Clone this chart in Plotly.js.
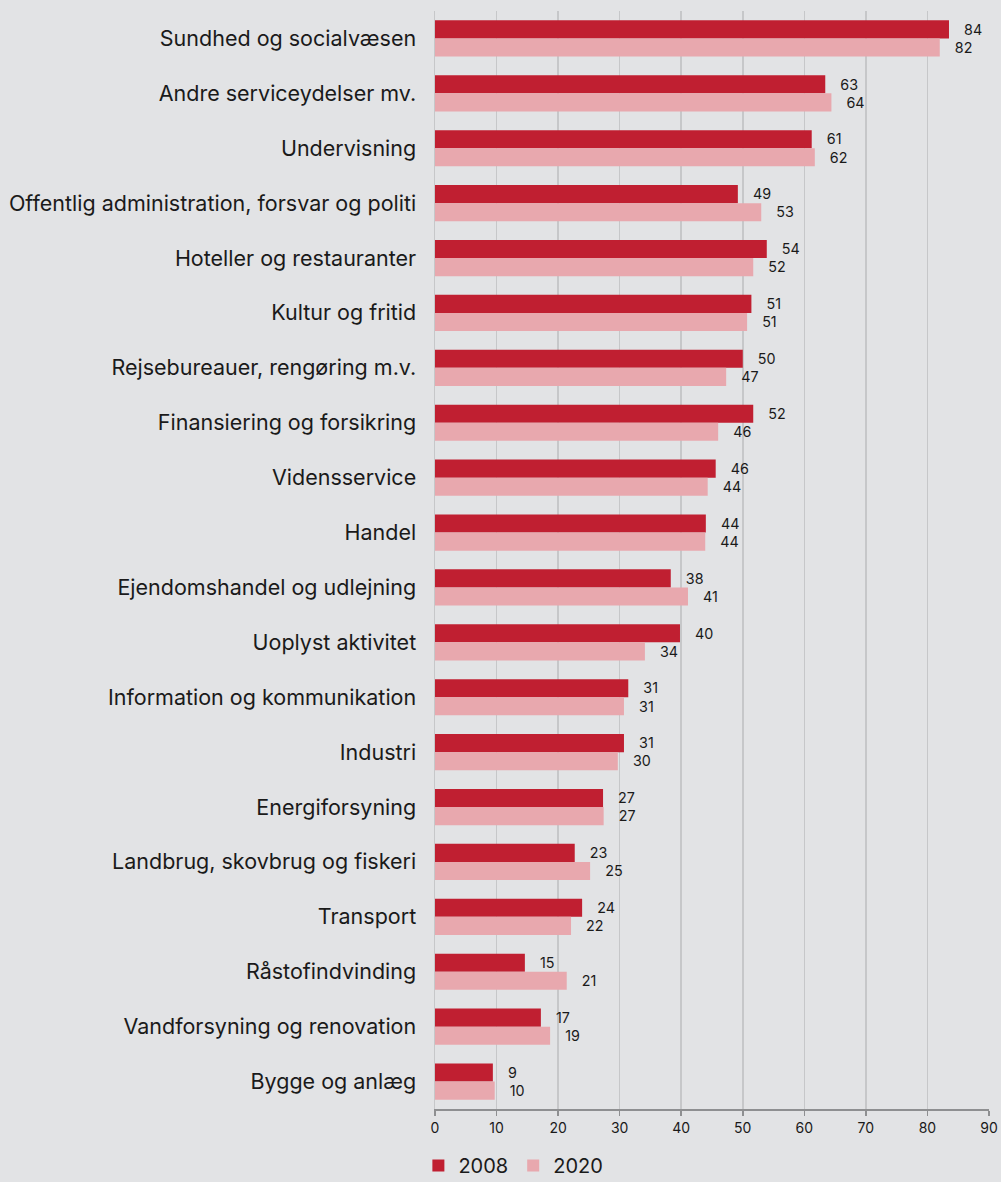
<!DOCTYPE html>
<html>
<head>
<meta charset="utf-8">
<script src="https://cdn.plot.ly/plotly-3.0.1.min.js"></script>
<style>
html,body{margin:0;padding:0;background:#e2e3e5;}
#chart{width:1001px;height:1182px;}
</style>
</head>
<body>
<div id="chart"></div>
<script>
const categories = [
  "Sundhed og socialvæsen",
  "Andre serviceydelser mv.",
  "Undervisning",
  "Offentlig administration, forsvar og politi",
  "Hoteller og restauranter",
  "Kultur og fritid",
  "Rejsebureauer, rengøring m.v.",
  "Finansiering og forsikring",
  "Vidensservice",
  "Handel",
  "Ejendomshandel og udlejning",
  "Uoplyst aktivitet",
  "Information og kommunikation",
  "Industri",
  "Energiforsyning",
  "Landbrug, skovbrug og fiskeri",
  "Transport",
  "Råstofindvinding",
  "Vandforsyning og renovation",
  "Bygge og anlæg"
];
const values2008 = [83.5, 63.4, 61.2, 49.2, 53.9, 51.4, 50.0, 51.7, 45.6, 44.0, 38.3, 39.8, 31.4, 30.7, 27.3, 22.7, 23.9, 14.6, 17.2, 9.4];
const values2020 = [82.0, 64.4, 61.7, 53.0, 51.7, 50.7, 47.3, 46.0, 44.3, 43.9, 41.1, 34.1, 30.7, 29.7, 27.4, 25.2, 22.1, 21.4, 18.7, 9.7];
const seriesNames = ["2008", "2020"];
const xTicks = [0,10,20,30,40,50,60,70,80,90];

const FONT = "Inter, 'Noto Sans', Arial, sans-serif";
const pad = "\u00a0\u00a0\u00a0";

function barTrace(name, vals, color){
  return {
    type: "bar",
    orientation: "h",
    name: name,
    y: categories,
    x: vals,
    marker: {color: color, line: {width: 0}},
    texttemplate: pad + "%{x:.0f}",
    textposition: "outside",
    cliponaxis: false,
    textfont: {family: FONT, size: 15, color: "#1a1a1a"},
    hoverinfo: "x+y+name"
  };
}

const data = [
  barTrace(seriesNames[0], values2008, "#c01f31"),
  barTrace(seriesNames[1], values2020, "#e8a8ae")
];

const layout = {
  width: 1001,
  height: 1182,
  paper_bgcolor: "#e2e3e5",
  plot_bgcolor: "#e2e3e5",
  margin: {l: 435, r: 12, t: 11, b: 73},
  font: {family: FONT, color: "#1a1a1a"},
  barmode: "group",
  bargap: 0.34,
  bargroupgap: 0,
  showlegend: true,
  legend: {
    orientation: "h",
    xref: "paper",
    x: -0.03, xanchor: "left",
    yref: "container",
    y: 0.014, yanchor: "middle",
    font: {family: FONT, size: 20, color: "#1a1a1a"},
    itemwidth: 30,
    tracegroupgap: 0,
    traceorder: "normal",
    itemclick: false
  },
  xaxis: {
    range: [0, 90],
    tickvals: xTicks,
    ticktext: xTicks.map(String),
    showgrid: true,
    gridcolor: "#c6c7c9",
    gridwidth: 1.5,
    zeroline: false,
    showline: true,
    linecolor: "#8e8f91",
    linewidth: 2,
    ticks: "outside",
    ticklen: 5,
    tickcolor: "#8e8f91",
    tickwidth: 1.5,
    tickfont: {family: FONT, size: 14, color: "#1a1a1a"},
    fixedrange: true
  },
  yaxis: {
    type: "category",
    autorange: "reversed",
    showgrid: false,
    zeroline: false,
    showline: true,
    linecolor: "#c6c7c9",
    linewidth: 1.5,
    ticks: "",
    ticklabelstandoff: 13,
    tickfont: {family: FONT, size: 21.5, color: "#1a1a1a"},
    fixedrange: true
  }
};

Plotly.newPlot("chart", data, layout, {displayModeBar: false, staticPlot: true});
</script>
</body>
</html>
